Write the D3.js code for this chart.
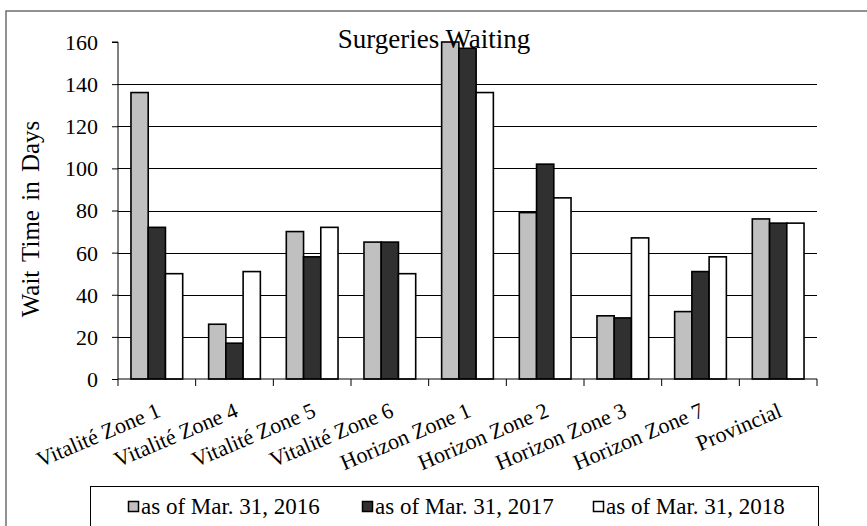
<!DOCTYPE html>
<html>
<head>
<meta charset="utf-8">
<script src="https://cdn.jsdelivr.net/npm/d3@7"></script>
<style>
  body { margin: 0; background: #fff; }
  text { font-family: 'Liberation Serif', 'Times New Roman', serif; fill: #000; }
</style>
</head>
<body>
<div id="chart"></div>
<script>
// data
const categories = ['Vitalité Zone 1', 'Vitalité Zone 4', 'Vitalité Zone 5', 'Vitalité Zone 6',
  'Horizon Zone 1', 'Horizon Zone 2', 'Horizon Zone 3', 'Horizon Zone 7', 'Provincial'];
const seriesNames = ['as of Mar. 31, 2016', 'as of Mar. 31, 2017', 'as of Mar. 31, 2018'];
const values2016 = [136, 26, 70, 65, 160, 79, 30, 32, 76];
const values2017 = [72, 17, 58, 65, 157, 102, 29, 51, 74];
const values2018 = [50, 51, 72, 50, 136, 86, 67, 58, 74];
const yTicks = [0, 20, 40, 60, 80, 100, 120, 140, 160];
const seriesColors = ['#c0c0c0', '#303030', '#ffffff'];

{
  const W = 867, H = 526;
  const plot = { left: 118, right: 817, top: 42, bottom: 379 };

  const svg = d3.select('#chart').append('svg')
    .attr('width', W).attr('height', H);

  // outer chart frame (runs off the right and bottom edge)
  svg.append('rect')
    .attr('x', 6).attr('y', 11)
    .attr('width', W + 20).attr('height', H + 20)
    .attr('fill', 'none').attr('stroke', '#6e6e6e').attr('stroke-width', 1.5);

  const x = d3.scaleBand().domain(categories).range([plot.left, plot.right]);
  const y = d3.scaleLinear().domain([0, 160]).range([plot.bottom, plot.top]);
  const barW = x.bandwidth() * 0.222;
  const groupOff = (x.bandwidth() - 3 * barW) / 2;

  // gridlines
  svg.append('g').selectAll('line')
    .data(yTicks.filter(t => t > 0 && t < 160))
    .enter().append('line')
      .attr('x1', plot.left).attr('x2', plot.right)
      .attr('y1', d => Math.round(y(d)) + 0.5).attr('y2', d => Math.round(y(d)) + 0.5)
      .attr('stroke', '#000').attr('stroke-width', 1);

  // bars
  const series = [values2016, values2017, values2018];
  series.forEach((vals, s) => {
    svg.append('g').selectAll('rect')
      .data(vals)
      .enter().append('rect')
        .attr('x', (d, i) => x(categories[i]) + groupOff + s * barW)
        .attr('y', d => y(d))
        .attr('width', barW)
        .attr('height', d => y(0) - y(d))
        .attr('fill', seriesColors[s])
        .attr('stroke', '#000').attr('stroke-width', 1.6);
  });

  // y axis
  const yAxis = d3.axisLeft(y).tickValues(yTicks).tickSize(6).tickPadding(14);
  const gy = svg.append('g').attr('transform', `translate(${plot.left},0)`).call(yAxis);
  gy.select('.domain').attr('stroke', '#000').attr('d', `M-6,${plot.top}H0V${plot.bottom}`);
  gy.selectAll('.tick line').attr('stroke', '#000');
  gy.selectAll('.tick text').style('font-size', '22px')
    .style('font-family', "'Liberation Serif', serif").attr('dy', '0.34em');

  // x axis
  const gx = svg.append('g').attr('transform', `translate(0,${plot.bottom})`);
  gx.append('line').attr('x1', plot.left).attr('x2', plot.right)
    .attr('stroke', '#000');
  gx.selectAll('line.tick')
    .data(categories.concat([null]))
    .enter().append('line')
      .classed('tick', true)
      .attr('x1', (d, i) => i < categories.length ? x(d) : plot.right)
      .attr('x2', (d, i) => i < categories.length ? x(d) : plot.right)
      .attr('y1', 0).attr('y2', 7).attr('stroke', '#000');
  gx.selectAll('text')
    .data(categories)
    .enter().append('text')
      .attr('transform', d => `translate(${x(d) + x.bandwidth() / 2 + 5},37) rotate(-23)`)
      .attr('text-anchor', 'end')
      .style('font-size', '22px')
      .text(d => d);

  // y axis label
  svg.append('text')
    .attr('transform', 'translate(39,219) rotate(-90)')
    .attr('text-anchor', 'middle')
    .style('font-size', '25px')
    .style('word-spacing', '3px')
    .text('Wait Time in Days');

  // title
  svg.append('text')
    .attr('x', 434).attr('y', 48)
    .attr('text-anchor', 'middle')
    .style('font-size', '27px')
    .text('Surgeries Waiting');

  // legend
  const legend = svg.append('g');
  legend.append('rect')
    .attr('x', 90.5).attr('y', 486.5).attr('width', 728).attr('height', 80)
    .attr('fill', '#fff').attr('stroke', '#000').attr('stroke-width', 1);
  const swatchX = [128, 362, 593];
  seriesNames.forEach((name, s) => {
    legend.append('rect')
      .attr('x', swatchX[s] + 0.5).attr('y', 501.5).attr('width', 10).attr('height', 10)
      .attr('fill', seriesColors[s]).attr('stroke', '#000').attr('stroke-width', 1.5);
    legend.append('text')
      .attr('x', swatchX[s] + 13).attr('y', 514)
      .style('font-size', '23px')
      .text(name);
  });
}
</script>
</body>
</html>
